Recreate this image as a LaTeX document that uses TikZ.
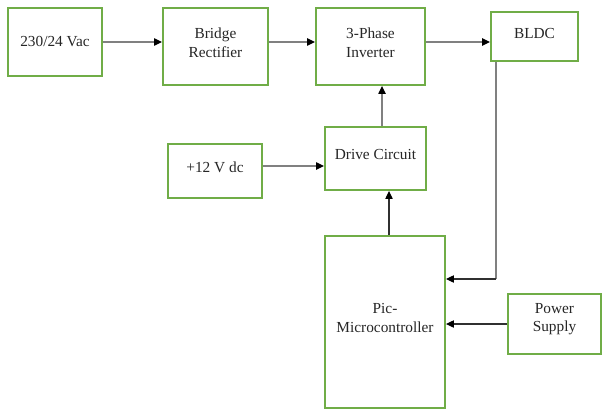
\documentclass[tikz,border=0pt]{standalone}
\usepackage{fontspec}
\setmainfont{Liberation Serif}
\usetikzlibrary{arrows.meta}
\definecolor{boxgreen}{HTML}{70AD47}
\definecolor{linegray}{HTML}{808080}
\definecolor{linedark}{HTML}{303030}
\definecolor{txt}{HTML}{262626}
\begin{document}
\begin{tikzpicture}[x=0.75pt,y=-0.75pt,
  blk/.style={draw=boxgreen,line width=1.4pt,inner sep=0pt,fill=white},
  lbl/.style={font=\fontsize{11.5}{14}\selectfont,align=center,inner sep=0pt,text=txt},
  arr/.style={draw=linegray,line width=0.9pt,-{Triangle[length=6pt,width=5.5pt,black]}},
  arrd/.style={draw=linedark,line width=0.8pt,-{Triangle[length=6pt,width=5.5pt,black]}},
  lin/.style={draw=linegray,line width=0.9pt}]
\useasboundingbox (0,0) rectangle (602,410);
% boxes
\node[blk,minimum width=94*0.75pt,minimum height=68*0.75pt] (vac) at (55,42) {};
\node[blk,minimum width=105*0.75pt,minimum height=77*0.75pt] (br) at (215.5,46.5) {};
\node[blk,minimum width=109*0.75pt,minimum height=77*0.75pt] (inv) at (370.5,46.5) {};
\node[blk,minimum width=87*0.75pt,minimum height=49*0.75pt] (bldc) at (534.5,36.5) {};
\node[blk,minimum width=94*0.75pt,minimum height=54*0.75pt] (dc) at (215,171) {};
\node[blk,minimum width=101*0.75pt,minimum height=63*0.75pt] (drv) at (375.5,158.5) {};
\node[blk,minimum width=120*0.75pt,minimum height=172*0.75pt] (mcu) at (385,322) {};
\node[blk,minimum width=93*0.75pt,minimum height=60*0.75pt] (ps) at (554.5,324) {};
% labels
\node[lbl] (tvac) at (55,42) {230/24 Vac};
\node[lbl] (tbr) at (215.5,42.5) {Bridge\\Rectifier};
\node[lbl] (tinv) at (370.5,42.5) {3-Phase\\Inverter};
\node[lbl] (tbldc) at (534.5,33) {BLDC};
\node[lbl] (tdc) at (215,167) {+12 V dc};
\node[lbl] (tdrv) at (375.5,154.5) {Drive Circuit};
\node[lbl] (tmcu) at (385,318) {Pic-\\Microcontroller};
\node[lbl] (tps) at (554.5,319) {Power\\Supply};
% helper coordinates
\coordinate (xa) at (382,0);
\coordinate (xb) at (389,0);
\coordinate (xc) at (496,0);
\coordinate (yc) at (0,279);
\coordinate (yd) at (0,166);
% connectors
\draw[arr] (vac.east) -- (vac.east -| br.west);
\draw[arr] (br.east |- vac.east) -- (inv.west |- vac.east);
\draw[arr] (inv.east |- vac.east) -- (bldc.west |- vac.east);
\draw[arr] (drv.north -| xa) -- (inv.south -| xa);
\draw[arr] (dc.east |- yd) -- (drv.west |- yd);
\draw[arrd] (mcu.north -| xb) -- (drv.south -| xb);
\draw[lin] (bldc.south -| xc) -- (xc |- yc);
\draw[arrd] (xc |- yc) -- (mcu.east |- yc);
\draw[arrd] (ps.west) -- (mcu.east |- ps.west);
\end{tikzpicture}
\end{document}
